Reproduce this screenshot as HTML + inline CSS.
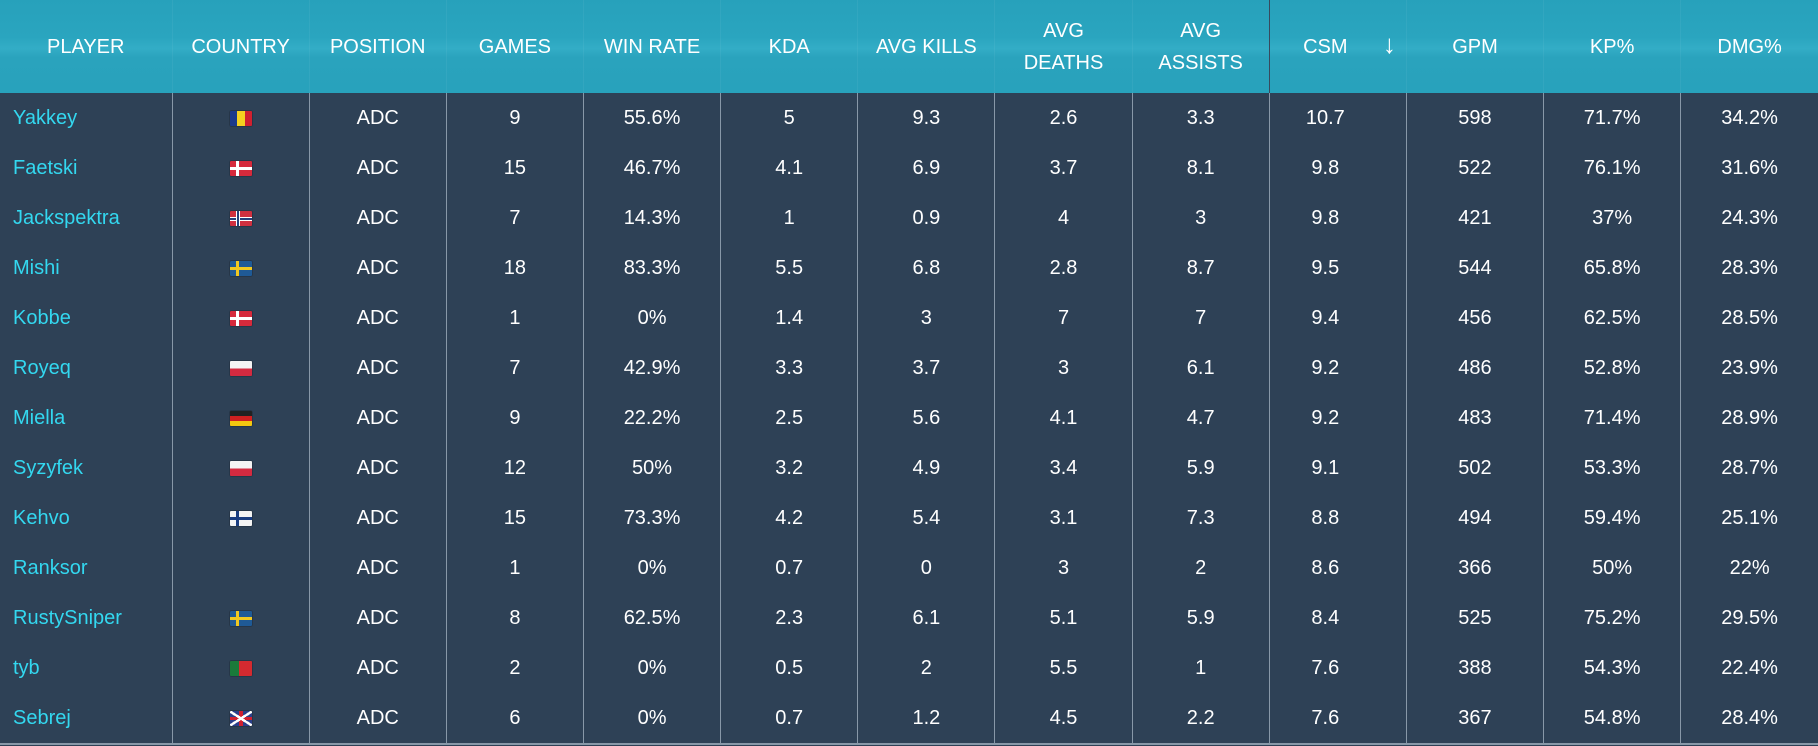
<!DOCTYPE html>
<html><head><style>
body{margin:0;width:1818px;height:746px;background:#2e4156;overflow:hidden;font-family:"Liberation Sans",sans-serif;}
table{border-collapse:collapse;table-layout:fixed;width:1818px;}
th{height:93px;padding:0;color:#fff;font-weight:normal;font-size:20px;line-height:32px;background:linear-gradient(#27a1bb 0%,#2aa5bf 40%,#33adc6 52%,#2aa3bd 62%,#28a2bc 100%);border-left:1px solid rgba(255,255,255,0.05);}
th:first-child{border-left:none}
td{height:50px;padding:0;text-align:center;color:#fff;font-size:20px;border-left:1px solid #8898a8;}
td:first-child{border-left:none;text-align:left;padding-left:13px;color:#33d8f0}
tr:last-child td{border-bottom:2px solid #8898a8}
td.c,th.c{padding-right:25px}
th.c{position:relative}
th.c span{position:absolute;right:10px;top:28px;font-size:26px}
.f{display:inline-block;width:22px;height:15px;vertical-align:middle;border-radius:1px;box-shadow:0 0 1px #000}
.ro{background:linear-gradient(90deg,#1c3a8a 0,#1c3a8a 7px,#f5d020 7px,#f5d020 15px,#d02030 15px)}
.dk{background:linear-gradient(90deg,transparent 6px,#fff 6px 9px,transparent 9px),linear-gradient(transparent 6px,#fff 6px 9px,transparent 9px),#d62a3c}
.no{background:linear-gradient(90deg,transparent 6px,#fff 6px,#fff 7px,#24407a 7px 9px,#fff 9px 10px,transparent 10px),linear-gradient(transparent 6px,#fff 6px 7px,#24407a 7px 9px,#fff 9px 10px,transparent 10px),#d03040}
.se{background:linear-gradient(90deg,transparent 6px,#f0c820 6px 9px,transparent 9px),linear-gradient(transparent 6px,#f0c820 6px 9px,transparent 9px),#1f5a96}
.pl{background:linear-gradient(#f4f4f4 50%,#d42a40 50%)}
.de{background:linear-gradient(#222 33%,#d02020 33% 66%,#f4c810 66%)}
.fi{background:linear-gradient(90deg,transparent 6px,#1a3d80 6px 9px,transparent 9px),linear-gradient(transparent 6px,#1a3d80 6px 9px,transparent 9px),#f4f4f4}
.pt{background:linear-gradient(90deg,#1a7a3a 40%,#d42a30 40%)}
.gb{background:linear-gradient(33deg,transparent 45%,#fff 45% 55%,transparent 55%),linear-gradient(-33deg,transparent 45%,#fff 45% 55%,transparent 55%),linear-gradient(90deg,transparent 9px,#d02030 9px 13px,transparent 13px),linear-gradient(transparent 6px,#d02030 6px 9px,transparent 9px),#2a3f8a}
</style></head><body>
<table>
<colgroup><col style="width:172px"><col span="12" style="width:137.17px"></colgroup>
<tr><th>PLAYER</th><th>COUNTRY</th><th>POSITION</th><th>GAMES</th><th>WIN RATE</th><th>KDA</th><th>AVG KILLS</th><th>AVG<br>DEATHS</th><th>AVG<br>ASSISTS</th><th class="c">CSM<span>↓</span></th><th>GPM</th><th>KP%</th><th>DMG%</th></tr>
<tr><td>Yakkey</td><td><i class="f ro"></i></td><td>ADC</td><td>9</td><td>55.6%</td><td>5</td><td>9.3</td><td>2.6</td><td>3.3</td><td class="c">10.7</td><td>598</td><td>71.7%</td><td>34.2%</td></tr>
<tr><td>Faetski</td><td><i class="f dk"></i></td><td>ADC</td><td>15</td><td>46.7%</td><td>4.1</td><td>6.9</td><td>3.7</td><td>8.1</td><td class="c">9.8</td><td>522</td><td>76.1%</td><td>31.6%</td></tr>
<tr><td>Jackspektra</td><td><i class="f no"></i></td><td>ADC</td><td>7</td><td>14.3%</td><td>1</td><td>0.9</td><td>4</td><td>3</td><td class="c">9.8</td><td>421</td><td>37%</td><td>24.3%</td></tr>
<tr><td>Mishi</td><td><i class="f se"></i></td><td>ADC</td><td>18</td><td>83.3%</td><td>5.5</td><td>6.8</td><td>2.8</td><td>8.7</td><td class="c">9.5</td><td>544</td><td>65.8%</td><td>28.3%</td></tr>
<tr><td>Kobbe</td><td><i class="f dk"></i></td><td>ADC</td><td>1</td><td>0%</td><td>1.4</td><td>3</td><td>7</td><td>7</td><td class="c">9.4</td><td>456</td><td>62.5%</td><td>28.5%</td></tr>
<tr><td>Royeq</td><td><i class="f pl"></i></td><td>ADC</td><td>7</td><td>42.9%</td><td>3.3</td><td>3.7</td><td>3</td><td>6.1</td><td class="c">9.2</td><td>486</td><td>52.8%</td><td>23.9%</td></tr>
<tr><td>Miella</td><td><i class="f de"></i></td><td>ADC</td><td>9</td><td>22.2%</td><td>2.5</td><td>5.6</td><td>4.1</td><td>4.7</td><td class="c">9.2</td><td>483</td><td>71.4%</td><td>28.9%</td></tr>
<tr><td>Syzyfek</td><td><i class="f pl"></i></td><td>ADC</td><td>12</td><td>50%</td><td>3.2</td><td>4.9</td><td>3.4</td><td>5.9</td><td class="c">9.1</td><td>502</td><td>53.3%</td><td>28.7%</td></tr>
<tr><td>Kehvo</td><td><i class="f fi"></i></td><td>ADC</td><td>15</td><td>73.3%</td><td>4.2</td><td>5.4</td><td>3.1</td><td>7.3</td><td class="c">8.8</td><td>494</td><td>59.4%</td><td>25.1%</td></tr>
<tr><td>Ranksor</td><td></td><td>ADC</td><td>1</td><td>0%</td><td>0.7</td><td>0</td><td>3</td><td>2</td><td class="c">8.6</td><td>366</td><td>50%</td><td>22%</td></tr>
<tr><td>RustySniper</td><td><i class="f se"></i></td><td>ADC</td><td>8</td><td>62.5%</td><td>2.3</td><td>6.1</td><td>5.1</td><td>5.9</td><td class="c">8.4</td><td>525</td><td>75.2%</td><td>29.5%</td></tr>
<tr><td>tyb</td><td><i class="f pt"></i></td><td>ADC</td><td>2</td><td>0%</td><td>0.5</td><td>2</td><td>5.5</td><td>1</td><td class="c">7.6</td><td>388</td><td>54.3%</td><td>22.4%</td></tr>
<tr><td>Sebrej</td><td><i class="f gb"></i></td><td>ADC</td><td>6</td><td>0%</td><td>0.7</td><td>1.2</td><td>4.5</td><td>2.2</td><td class="c">7.6</td><td>367</td><td>54.8%</td><td>28.4%</td></tr>
</table>
</body></html>
